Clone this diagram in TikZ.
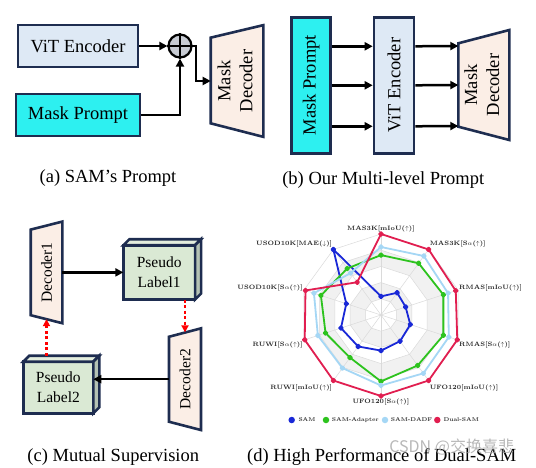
\documentclass[tikz,border=0pt]{standalone}
\usepackage{fontspec}
\usetikzlibrary{arrows.meta,backgrounds,calc}
\newfontfamily\tnr{Liberation Serif}
\newfontfamily\cjk{Noto Sans CJK SC}

\definecolor{navy}{RGB}{30,45,80}
\definecolor{vitblue}{RGB}{222,233,245}
\definecolor{promptcyan}{RGB}{45,240,240}
\definecolor{decpeach}{RGB}{251,238,230}
\definecolor{plgreen}{RGB}{218,233,212}
\definecolor{pltop}{RGB}{228,238,222}
\definecolor{plside}{RGB}{180,194,180}
\definecolor{plusgray}{RGB}{200,204,212}
\definecolor{samblue}{RGB}{25,40,215}
\definecolor{adaptgreen}{RGB}{45,195,30}
\definecolor{dadfblue}{RGB}{165,215,245}
\definecolor{dualred}{RGB}{225,30,80}
\definecolor{gridgray}{RGB}{241,241,241}
\definecolor{gridline}{RGB}{218,218,218}

\tikzset{
    mainbox/.style={draw=navy, line width=2.6pt, inner sep=0pt, font=\tnr\fontsize{18.5}{22}\selectfont},
    dectext/.style={inner sep=0pt, outer sep=0pt, font=\tnr\fontsize{18.5}{22}\selectfont},
    decshape/.style={draw=navy, fill=decpeach, line width=2.6pt, line join=miter},
    plbox/.style={draw=navy, fill=plgreen, line width=2.6pt, inner sep=0pt, outer sep=0pt, align=center, font=\tnr\fontsize{15.5}{20}\selectfont},
    plface/.style={draw=navy, line width=2.6pt, line join=miter},
    arr/.style={line width=2.5pt, -{Triangle[length=8pt,width=8pt]}},
    redarr/.style={red, line width=2.5pt, dash pattern=on 3pt off 2.5pt, -{Triangle[length=7pt,width=7pt]}},
    captext/.style={font=\tnr\fontsize{18.5}{22}\selectfont},
    radarline/.style={line width=1.8pt, line join=round, mark=*, mark size=1.9pt, mark options={solid}},
    radarlbl/.style={inner sep=1pt, text=black!85, font=\fontsize{6.3}{7}\selectfont\bfseries},
    legdot/.style={circle, minimum size=6.5pt, inner sep=0pt},
    legtext/.style={anchor=west, inner sep=0pt, text=black!80, font=\fontsize{5.5}{6}\selectfont\bfseries}
}

\begin{document}
\begin{tikzpicture}[x=1pt, y=1pt]
    \useasboundingbox (0,0) rectangle (536,467);

    % (a) SAM's prompt
    \node (vitA) at (78,421) [mainbox, fill=vitblue, minimum width=120, minimum height=42] {ViT Encoder};
    \node (mpA) at (78,352) [mainbox, fill=promptcyan, minimum width=124, minimum height=42] {Mask Prompt};
    \node (plusA) at (180,421) [circle, draw=black, fill=plusgray, line width=2.2pt, minimum size=23, inner sep=0pt] {};
    \draw[line width=2.2pt] (plusA.north) -- (plusA.south);
    \draw[line width=2.2pt] (plusA.west) -- (plusA.east);
    \node (decA) at (237,386) [dectext, minimum width=52.6, minimum height=111.7] {\rotatebox{90}{\begin{tabular}{@{}c@{}}Mask\\Decoder\end{tabular}}};
    \begin{scope}[on background layer]
        \draw[decshape] ([yshift=-12.5]decA.north west) -- (decA.north east) -- (decA.south east) -- ([yshift=13.5]decA.south west) -- cycle;
    \end{scope}

    \draw[arr] (vitA.east) -- (plusA.west);
    \draw[arr] (mpA.east) -| (plusA.south);
    \draw[arr] (plusA.east) -- ++(3.5,0) |- (decA.west);

    \node (capA) at (108,289) [captext] {(a) SAM’s Prompt};

    % (b) multi-level prompt
    \node (mpB) at (311.2,381.7) [mainbox, fill=promptcyan, minimum width=39, minimum height=136] {\rotatebox{90}{Mask Prompt}};
    \node (vitB) at (394,381.7) [mainbox, fill=vitblue, minimum width=40, minimum height=136] {\rotatebox{90}{ViT Encoder}};
    \node (decB) at (483.8,382) [dectext, minimum width=51, minimum height=110] {\rotatebox{90}{\begin{tabular}{@{}c@{}}Mask\\Decoder\end{tabular}}};
    \begin{scope}[on background layer]
        \draw[decshape] ([yshift=-13.3]decB.north west) -- (decB.north east) -- (decB.south east) -- ([yshift=13.3]decB.south west) -- cycle;
    \end{scope}

    \draw[arr] ([yshift=39]mpB.east) -- ([yshift=39]vitB.west);
    \draw[arr] (mpB.east) -- (vitB.west);
    \draw[arr] ([yshift=-41]mpB.east) -- ([yshift=-41]vitB.west);
    \draw[arr] ([yshift=39]vitB.east) -- ([yshift=39]decB.west);
    \draw[arr] (vitB.east) -- (decB.west);
    \draw[arr] ([yshift=-41]vitB.east) -- ([yshift=-41]decB.west);

    \node (capB) at (383.3,287) [captext] {(b) Our Multi-level Prompt};

    % (c) mutual supervision
    \node (dec1) at (46.5,194.6) [dectext, font=\tnr\fontsize{15.5}{20}\selectfont, minimum width=31.6, minimum height=101.6] {\rotatebox{90}{Decoder1}};
    \node (dec2) at (185,87.8) [dectext, font=\tnr\fontsize{15.5}{20}\selectfont, minimum width=32, minimum height=101.7] {\rotatebox{90}{Decoder2}};
    \begin{scope}[on background layer]
        \draw[decshape] ([yshift=-8]dec1.north west) -- (dec1.north east) -- (dec1.south east) -- ([yshift=8]dec1.south west) -- cycle;
        \draw[decshape] ([yshift=-8.4]dec2.north west) -- (dec2.north east) -- (dec2.south east) -- ([yshift=8.3]dec2.south west) -- cycle;
    \end{scope}

    \node (pl1) at (159.2,194.6) [plbox, minimum width=71.7, minimum height=54.3] {Pseudo\\Label1};
    \draw[plface, fill=pltop] (pl1.north west) -- ++(6,6) -- ([shift={(6,6)}]pl1.north east) -- (pl1.north east) -- cycle;
    \draw[plface, fill=plside] (pl1.north east) -- ++(6,6) -- ([shift={(6,6)}]pl1.south east) -- (pl1.south east) -- cycle;

    \node (pl2) at (58.3,79.5) [plbox, minimum width=70, minimum height=51.6] {Pseudo\\Label2};
    \draw[plface, fill=pltop] (pl2.north west) -- ++(6,6) -- ([shift={(6,6)}]pl2.north east) -- (pl2.north east) -- cycle;
    \draw[plface, fill=plside] (pl2.north east) -- ++(6,6) -- ([shift={(6,6)}]pl2.south east) -- (pl2.south east) -- cycle;

    \draw[arr] (dec1.east) -- (pl1.west);
    \draw[arr] (dec2.west) -- (dec2.west -| pl2.east);
    \draw[redarr] (dec2.north |- pl1.south) -- ([yshift=-4]dec2.north);
    \draw[redarr] ($(dec1.south |- pl2.north)+(0,6)$) -- ([yshift=4]dec1.south);

    \node (capC) at (113.3,10.3) [captext] {(c) Mutual Supervision};

    % (d) radar chart
    \begin{scope}[shift={(381,152)}]
        \fill[white] (90:81) -- (54:81) -- (18:81) -- (-18:81) -- (-54:81) -- (-90:81) -- (-126:81) -- (-162:81) -- (162:81) -- (126:81) -- cycle;
        \fill[gridgray] (90:64.8) -- (54:64.8) -- (18:64.8) -- (-18:64.8) -- (-54:64.8) -- (-90:64.8) -- (-126:64.8) -- (-162:64.8) -- (162:64.8) -- (126:64.8) -- cycle;
        \fill[white] (90:48.6) -- (54:48.6) -- (18:48.6) -- (-18:48.6) -- (-54:48.6) -- (-90:48.6) -- (-126:48.6) -- (-162:48.6) -- (162:48.6) -- (126:48.6) -- cycle;
        \fill[gridgray] (90:32.4) -- (54:32.4) -- (18:32.4) -- (-18:32.4) -- (-54:32.4) -- (-90:32.4) -- (-126:32.4) -- (-162:32.4) -- (162:32.4) -- (126:32.4) -- cycle;
        \fill[white] (90:16.2) -- (54:16.2) -- (18:16.2) -- (-18:16.2) -- (-54:16.2) -- (-90:16.2) -- (-126:16.2) -- (-162:16.2) -- (162:16.2) -- (126:16.2) -- cycle;
        \foreach \r in {16.2,32.4,48.6,64.8,81}
            \draw[gridline, line width=0.5pt] (90:\r) -- (54:\r) -- (18:\r) -- (-18:\r) -- (-54:\r) -- (-90:\r) -- (-126:\r) -- (-162:\r) -- (162:\r) -- (126:\r) -- cycle;
        \foreach \a in {90,54,18,-18,-54,-90,-126,-162,162,126}
            \draw[gridline, line width=0.5pt] (0,0) -- (\a:81);

        \draw[radarline, samblue] plot coordinates {(90:18.6) (54:27.5) (18:25.9) (-18:30.8) (-54:32.4) (-90:35.6) (-126:38.9) (-162:42.1) (162:36.5) (126:81)} -- cycle;
        \draw[radarline, adaptgreen] plot coordinates {(90:59.9) (54:64) (18:65.6) (-18:65.6) (-54:62.4) (-90:66.4) (-126:52.7) (-162:58.3) (162:63.2) (126:57.5)} -- cycle;
        \draw[radarline, dadfblue] plot coordinates {(90:68) (54:72.9) (18:70.5) (-18:71.3) (-54:72.1) (-90:70.5) (-126:65.6) (-162:66.4) (162:70.5) (126:51.8)} -- cycle;
        \draw[radarline, dualred] plot coordinates {(90:81) (54:81) (18:78.6) (-18:80.2) (-54:81) (-90:81) (-126:81) (-162:80.2) (162:79.4) (126:40.5)} -- cycle;

        \node (lblMasA) at (90:81) [radarlbl, anchor=south, yshift=1] {MAS3K[mIoU($\uparrow$)]};
        \node (lblMasB) at (54:81) [radarlbl, anchor=south west, yshift=1] {MAS3K[S$\alpha$($\uparrow$)]};
        \node (lblRmasA) at (18:81) [radarlbl, anchor=west, yshift=2] {RMAS[mIoU($\uparrow$)]};
        \node (lblRmasB) at (-18:81) [radarlbl, anchor=west, yshift=-5] {RMAS[S$\alpha$($\uparrow$)]};
        \node (lblUfoA) at (-54:81) [radarlbl, anchor=north west, yshift=-3] {UFO120[mIoU($\uparrow$)]};
        \node (lblUfoB) at (-90:81) [radarlbl, anchor=north, yshift=-2] {UFO120[S$\alpha$($\uparrow$)]};
        \node (lblRuwiA) at (-126:81) [radarlbl, anchor=north east, yshift=-3] {RUWI[mIoU($\uparrow$)]};
        \node (lblRuwiB) at (-162:81) [radarlbl, anchor=east, yshift=-5] {RUWI[S$\alpha$($\uparrow$)]};
        \node (lblUsodA) at (162:81) [radarlbl, anchor=east, yshift=2] {USOD10K[S$\alpha$($\uparrow$)]};
        \node (lblUsodB) at (126:81) [radarlbl, anchor=south east, yshift=1] {USOD10K[MAE($\downarrow$)]};
    \end{scope}

    % legend
    \node (lgSam) at (291.7,47) [legdot, fill=samblue] {};
    \node (lgSamT) at (298.3,47) [legtext] {SAM};
    \node (lgAdapt) at (326,47) [legdot, fill=adaptgreen] {};
    \node (lgAdaptT) at (331.7,47) [legtext] {SAM-Adapter};
    \node (lgDadf) at (385,47) [legdot, fill=dadfblue] {};
    \node (lgDadfT) at (390.7,47) [legtext] {SAM-DADF};
    \node (lgDual) at (437.3,47) [legdot, fill=dualred] {};
    \node (lgDualT) at (443.3,47) [legtext] {Dual-SAM};

    \node (capD) at (381.7,9.7) [captext] {(d) High Performance of Dual-SAM};
    \node (mark) at (451.7,20.3) [text=gray!70, opacity=0.8, font=\cjk\fontsize{16}{18}\selectfont] {CSDN @交换喜悲};
\end{tikzpicture}
\end{document}
